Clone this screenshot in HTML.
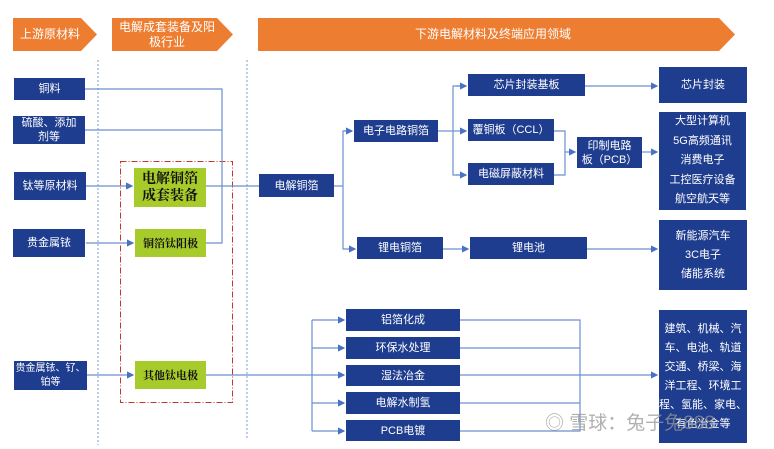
<!DOCTYPE html>
<html><head><meta charset="utf-8"><style>
body{margin:0;width:774px;height:449px;background:#fff;position:relative;overflow:hidden;font-family:"Liberation Sans","Noto Sans CJK SC",sans-serif}
.b{position:absolute;background:#1F3D8F;color:#fff;font-size:11px;display:flex;align-items:center;justify-content:center;text-align:center;line-height:14px;box-sizing:border-box}
.g{position:absolute;background:#A7CB2A;color:#111;font-weight:bold;display:flex;align-items:center;justify-content:center;text-align:center;font-family:"Liberation Serif","Noto Serif CJK SC",serif}
.h{position:absolute;color:#fff;font-size:12px;display:flex;align-items:center;justify-content:center;text-align:center;line-height:15px}
svg{position:absolute;left:0;top:0}
</style></head><body>
<svg width="774" height="449">
<defs><marker id="a" markerWidth="6" markerHeight="6" refX="5" refY="3" orient="auto"><path d="M0,0L6,3L0,6z" fill="#4A72C4"/></marker></defs>
<polygon points="13,18 81,18 97,34.5 81,51 13,51" fill="#ED7D31"/>
<polygon points="112,18 217,18 233,34.5 217,51 112,51" fill="#ED7D31"/>
<polygon points="258,18 719,18 735,34.5 719,51 258,51" fill="#ED7D31"/>
<g stroke="#7F9AD6" stroke-width="1" stroke-dasharray="2,2"><line x1="98" y1="60" x2="98" y2="445"/><line x1="247" y1="60" x2="247" y2="440"/></g>
<rect x="120.5" y="161.5" width="112" height="241" fill="none" stroke="#C0392B" stroke-dasharray="6,2,1,2"/>
<g stroke="#6D8FD0" stroke-width="1.2" fill="none">
<polyline points="85,89 222,89 222,243 206,243"/>
<line x1="85" y1="130" x2="222" y2="130"/>
<line x1="86" y1="186" x2="132" y2="186" marker-end="url(#a)"/>
<line x1="86" y1="243" x2="133" y2="243" marker-end="url(#a)"/>
<line x1="206" y1="186" x2="259" y2="186"/>
<polyline points="334,186 343,186"/>
<polyline points="352,131 343,131 343,249 355,249" />
<line x1="343" y1="131" x2="352" y2="131" marker-end="url(#a)"/>
<line x1="348" y1="249" x2="355" y2="249" marker-end="url(#a)"/>
<line x1="438" y1="131" x2="453" y2="131"/>
<polyline points="466,86 453,86 453,175 466,175"/>
<line x1="456" y1="86" x2="466" y2="86" marker-end="url(#a)"/>
<line x1="453" y1="131" x2="466" y2="131" marker-end="url(#a)"/>
<line x1="456" y1="175" x2="466" y2="175" marker-end="url(#a)"/>
<line x1="585" y1="86" x2="657" y2="86" marker-end="url(#a)"/>
<polyline points="554,131 565,131 565,175 554,175"/>
<line x1="565" y1="152" x2="575" y2="152" marker-end="url(#a)"/>
<line x1="642" y1="152" x2="657" y2="152" marker-end="url(#a)"/>
<line x1="443" y1="249" x2="468" y2="249" marker-end="url(#a)"/>
<line x1="587" y1="249" x2="657" y2="249" marker-end="url(#a)"/>
<line x1="87" y1="375" x2="133" y2="375" marker-end="url(#a)"/>
<line x1="206" y1="375" x2="312" y2="375"/>
<line x1="312" y1="320" x2="312" y2="431"/>
<line x1="312" y1="320" x2="344" y2="320" marker-end="url(#a)"/>
<line x1="312" y1="348" x2="344" y2="348" marker-end="url(#a)"/>
<line x1="312" y1="375" x2="344" y2="375" marker-end="url(#a)"/>
<line x1="312" y1="403" x2="344" y2="403" marker-end="url(#a)"/>
<line x1="312" y1="431" x2="344" y2="431" marker-end="url(#a)"/>
<polyline points="460,320 580,320 580,431 460,431"/>
<line x1="460" y1="348" x2="580" y2="348"/>
<line x1="460" y1="375" x2="580" y2="375"/>
<line x1="460" y1="403" x2="580" y2="403"/>
<line x1="580" y1="375" x2="657" y2="375" marker-end="url(#a)"/>
</g>
</svg>
<div class="h" style="left:13px;top:18px;width:74px;height:33px">上游原材料</div>
<div class="h" style="left:112px;top:18px;width:110px;height:33px">电解成套装备及阳<br>极行业</div>
<div class="h" style="left:258px;top:18px;width:470px;height:33px">下游电解材料及终端应用领域</div>
<div class="b" style="left:14px;top:78px;width:71px;height:22px">铜料</div>
<div class="b" style="left:13px;top:116px;width:72px;height:28px">硫酸、添加<br>剂等</div>
<div class="b" style="left:14px;top:172px;width:72px;height:28px">钛等原材料</div>
<div class="b" style="left:13px;top:229px;width:72px;height:28px">贵金属铱</div>
<div class="b" style="left:14px;top:361px;width:73px;height:29px;font-size:10px">贵金属铱、钌、<br>铂等</div>
<div class="g" style="left:134px;top:168px;width:72px;height:39px;font-size:14px;line-height:17px">电解铜箔<br>成套装备</div>
<div class="g" style="left:135px;top:229px;width:71px;height:28px;font-size:11px">铜箔钛阳极</div>
<div class="g" style="left:135px;top:361px;width:71px;height:28px;font-size:11px">其他钛电极</div>
<div class="b" style="left:259px;top:174px;width:75px;height:23px">电解铜箔</div>
<div class="b" style="left:354px;top:120px;width:84px;height:22px">电子电路铜箔</div>
<div class="b" style="left:357px;top:237px;width:86px;height:22px">锂电铜箔</div>
<div class="b" style="left:468px;top:74px;width:117px;height:22px">芯片封装基板</div>
<div class="b" style="left:468px;top:119px;width:86px;height:22px">覆铜板（CCL）</div>
<div class="b" style="left:468px;top:163px;width:86px;height:22px">电磁屏蔽材料</div>
<div class="b" style="left:577px;top:137px;width:65px;height:31px">印制电路<br>板（PCB）</div>
<div class="b" style="left:470px;top:237px;width:117px;height:22px">锂电池</div>
<div class="b" style="left:659px;top:67px;width:88px;height:36px">芯片封装</div>
<div class="b" style="left:659px;top:112px;width:87px;height:98px;line-height:19.5px">大型计算机<br>5G高频通讯<br>消费电子<br>工控医疗设备<br>航空航天等</div>
<div class="b" style="left:659px;top:220px;width:88px;height:70px;line-height:19px">新能源汽车<br>3C电子<br>储能系统</div>
<div class="b" style="left:346px;top:309px;width:114px;height:22px">铝箔化成</div>
<div class="b" style="left:346px;top:337px;width:114px;height:22px">环保水处理</div>
<div class="b" style="left:346px;top:365px;width:114px;height:21px">湿法冶金</div>
<div class="b" style="left:346px;top:392px;width:114px;height:22px">电解水制氢</div>
<div class="b" style="left:346px;top:420px;width:114px;height:21px">PCB电镀</div>
<div class="b" style="left:659px;top:310px;width:88px;height:133px;line-height:19px;font-size:11px;white-space:nowrap">建筑、机械、汽<br>车、电池、轨道<br>交通、桥梁、海<br>洋工程、环境工<br>程、氢能、家电、<br>有色冶金等</div>
<div style="position:absolute;left:545px;top:408px;font-size:19px;color:rgba(150,150,150,0.75)">◎ 雪球：兔子兔888</div>
</body></html>
